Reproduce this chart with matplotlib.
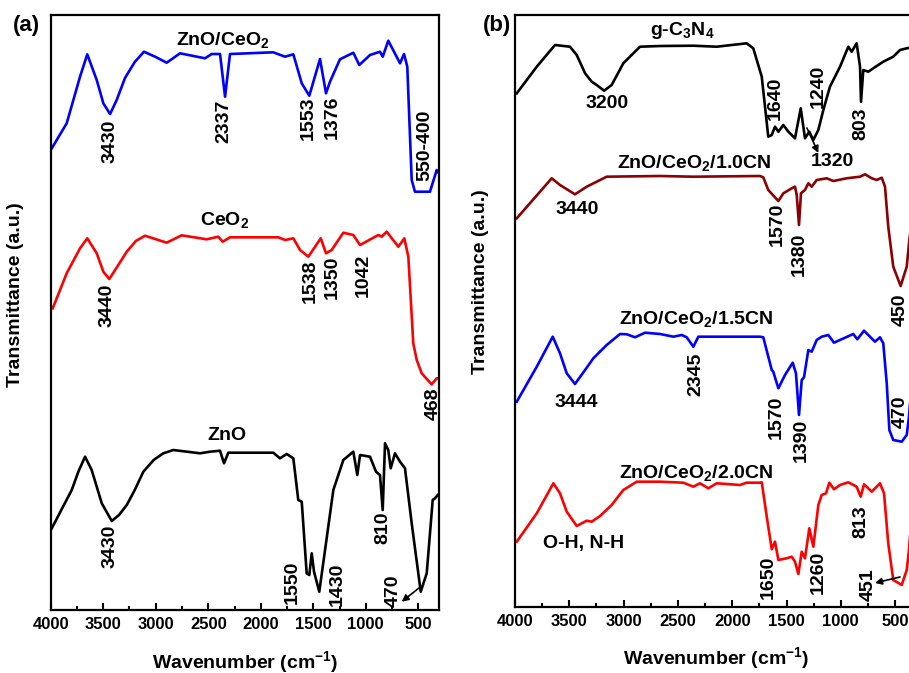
import matplotlib
matplotlib.use("Agg")
import matplotlib.pyplot as plt
from matplotlib.ticker import MultipleLocator

plt.rcParams['font.family'] = ['Liberation Sans', 'DejaVu Sans']
plt.rcParams['font.weight'] = 'bold'
plt.rcParams['mathtext.fontset'] = 'custom'
plt.rcParams['mathtext.rm'] = 'Liberation Sans:bold'
plt.rcParams['mathtext.bf'] = 'Liberation Sans:bold'
plt.rcParams['mathtext.it'] = 'Liberation Sans:bold'

# ---------------- Panel (a) data (wavenumber, transmittance a.u.) ----------------
zc_wn = [3990, 3848, 3721, 3652, 3562, 3499, 3435, 3372, 3293, 3200, 3112, 3000, 2896, 2769, 2531, 2467, 2388, 2340,
         2293, 1881, 1769, 1690, 1610, 1538, 1436, 1379, 1341, 1246, 1119, 1062, 960, 865, 839, 786,
         674, 636, 605, 563, 532, 389, 325, 315]
zc_t = [461.7, 486.7, 533.3, 555.7, 530, 506.7, 496, 510, 532, 548, 558.3, 553, 547.3, 556.7, 551.7, 556, 556, 513.3,
        556, 557.7, 553.3, 555.7, 526.7, 514.3, 551, 516.7, 528.3, 550.7, 557.3, 545, 555, 558.3, 553.3, 569.3,
        546.7, 556, 543.3, 430, 418.3, 418.3, 440, 438]

ce_wn = [3981, 3848, 3721, 3652, 3562, 3499, 3442, 3276, 3190, 3102, 2896, 2753, 2515, 2404, 2362, 2293, 1833,
         1769, 1690, 1626, 1547, 1429, 1379, 1325, 1214, 1119, 1055, 881, 849, 801, 690, 633, 595, 548,
         515, 468, 373, 325, 310]
ce_t = [301.7, 336.7, 361.7, 371.7, 356.7, 338.3, 331, 358.3, 369, 374.3, 367.3, 374.7, 370.7, 373.3, 368.3, 372.7, 372.7,
        370, 371.7, 360, 353.3, 371.7, 356.7, 360, 377.3, 375, 365, 375, 373.3, 378.3, 363.3, 371.7, 353.3, 266.7,
        250, 236.7, 225.7, 231.7, 231.7]

zn_wn = [3990, 3800, 3737, 3673, 3610, 3514, 3419, 3350, 3276, 3200, 3118, 3020, 2928, 2833, 2579, 2483, 2388, 2350, 2309,
         1881, 1817, 1753, 1690, 1643, 1610, 1563, 1538, 1515, 1493, 1443, 1388, 1309, 1214, 1119, 1081,
         1055, 960, 903, 865, 839, 817, 786, 763, 722, 674, 627, 563, 477, 420, 363, 341, 315]
zn_t = [81.7, 120, 138.3, 153.3, 140, 106.7, 89, 95, 105, 120, 138.3, 150, 156.7, 160, 156.7, 158.3, 159.3, 146.7, 157.3,
        157.3, 151.7, 156, 151.7, 110, 108.3, 36.7, 35, 56.7, 38.3, 18.3, 60, 120, 150, 158.3, 135,
        155, 153.3, 138.3, 135, 100, 166.7, 160, 141.7, 156.7, 148.3, 141.7, 86.7, 18.3, 36.7, 110, 111.7, 115]

# ---------------- Panel (b) data ----------------
cn_wn = [3984, 3800, 3632, 3494, 3432, 3355, 3294, 3248, 3180, 3110, 3003, 2849, 2665, 2358, 2143, 1867,
         1806, 1728, 1698, 1668, 1636, 1606, 1575, 1529, 1483, 1422, 1369, 1330, 1290, 1253, 1207, 1161,
         1100, 1007, 931, 900, 854, 823, 814, 793, 747, 701, 609, 517, 455, 393, 330]
cn_t = [513.7, 540.3, 562, 560.3, 552, 533.7, 525.3, 522, 516.3, 522, 543.7, 560.3, 561, 561.3, 560.3, 563.7,
        558.7, 530.3, 500.3, 470.3, 472, 480.3, 475.3, 482, 475.3, 468.7, 498.7, 468.7, 475.3, 467, 477, 497,
        520.3, 540.3, 560.3, 555.3, 563.7, 540.3, 505.3, 537, 535.3, 538.7, 545.3, 550.3, 557, 558.7, 560]

c10_wn = [3984, 3662, 3586, 3448, 3340, 3156, 2665, 2358, 1744, 1714, 1668, 1575, 1529, 1452, 1422, 1406,
          1385, 1367, 1330, 1299, 1268, 1222, 1130, 1069, 946, 823, 777, 715, 669, 623, 593, 563, 517,
          449, 393, 369, 330]
c10_t = [388.7, 428.7, 422, 412.7, 420.3, 430.3, 431, 430.3, 431, 429.7, 417, 406, 413.7, 418.7, 420.3, 412,
         382, 413.7, 417, 423.7, 420.3, 427, 428.7, 426, 428.7, 430.3, 432.7, 428.7, 427, 429.3, 420.3, 380.3, 340.3,
         321, 340.3, 367, 400]

c15_wn = [3984, 3800, 3653, 3586, 3524, 3448, 3355, 3279, 3156, 3033, 2971, 2895, 2803, 2665, 2542, 2465,
          2419, 2358, 2312, 1898, 1744, 1714, 1636, 1622, 1575, 1514, 1443, 1413, 1385, 1360, 1339, 1299,
          1268, 1222, 1176, 1115, 1063, 885, 848, 786, 747, 685, 639, 609, 577, 553, 517, 439, 393, 372, 330]
c15_t = [205.3, 240.3, 270.3, 253.7, 233.7, 223, 237, 248.7, 262, 273, 272.7, 269.7, 274.3, 273, 270.3, 272,
         269.7, 260.3, 270.3, 270.3, 270.3, 269.7, 237, 235.3, 218.7, 232, 244.3, 233.7, 192, 227, 229.7, 257,
         255.3, 267, 270.3, 272, 264.3, 273, 267.7, 276.3, 272, 265.3, 269.7, 263.7, 223.7, 177, 167, 165.3, 172, 190.3, 250]

c20_wn = [3984, 3800, 3647, 3586, 3524, 3432, 3340, 3294, 3217, 3110, 3003, 2879, 2665, 2450, 2358, 2297,
          2220, 2143, 1928, 1867, 1744, 1728, 1682, 1636, 1606, 1575, 1498, 1452, 1422, 1391, 1360, 1330,
          1290, 1253, 1207, 1176, 1136, 1106, 1063, 1007, 931, 854, 817, 786, 715, 639, 602, 563, 517,
          439, 393, 372, 330]
c20_t = [65.3, 93.7, 123.7, 113.7, 95.3, 81, 86.3, 85.3, 91, 102, 117, 125.3, 125.3, 124.3, 120.3, 123.7,
         118.7, 123.7, 122, 124.3, 124.3, 124.7, 90.3, 57.7, 65.3, 47, 48.7, 50.3, 45.3, 33, 55.3, 48.7,
         78.7, 60.3, 102, 112, 113.7, 124.3, 117.7, 122, 124.7, 120.3, 110.3, 122.7, 115.3, 123.7, 113.7, 63.7, 27,
         22, 37, 57, 120]

# ---------------- Labels ----------------
a_names = ['ZnO/CeO$_{2}$', 'CeO$_{2}$', 'ZnO']
a_name_pos = [(2359, 570), (2348, 390), (2323, 175)]
a_peaks = ['3430', '2337', '1553', '1376', '550-400', '3440', '1538', '1350', '1042', '468',
           '3430', '1550', '1430', '810', '470']
a_peak_pos = [(3435, 469), (2350, 489), (1550, 492), (1322, 493), (436, 465), (3464, 305), (1531, 329),
              (1322, 333), (1027, 335), (361, 206), (3435, 64), (1703, 28), (1274, 26), (836, 82), (741, 19)]

b_names = ['g-C$_{3}$N$_{4}$', 'ZnO/CeO$_{2}$/1.0CN', 'ZnO/CeO$_{2}$/1.5CN', 'ZnO/CeO$_{2}$/2.0CN']
b_name_pos = [(2458, 577), (2350, 444), (2336, 288), (2336, 134)]
b_hlabels = ['3200', '1320', '3440', '3444', 'O-H, N-H']
b_hlabel_pos = [(3156, 504), (1077, 446), (3432, 397), (3432, 204.5), (3365, 63)]
b_peaks = ['1640', '1240', '803', '1570', '1380', '450', '2345', '1570', '1390', '470', '1650', '1260', '813', '451']
b_peak_pos = [(1606, 509), (1207, 521), (814, 483), (1585, 383), (1382, 353), (448, 297), (2336, 233),
              (1597, 190), (1360, 167), (448, 195), (1667, 30), (1207, 35), (817, 85), (747, 22)]

fig = plt.figure(figsize=(9.09, 6.73), dpi=100)
axa = fig.add_axes([0.0558, 0.0936, 0.4275, 0.8841])
axb = fig.add_axes([0.5666, 0.0981, 0.4420, 0.8796])

LW = 1.9
axa.plot(zc_wn, zc_t, color='#0000FF', lw=LW)
axa.plot(ce_wn, ce_t, color='#FF0000', lw=LW)
axa.plot(zn_wn, zn_t, color='black', lw=LW)
axb.plot(cn_wn, cn_t, color='black', lw=LW)
axb.plot(c10_wn, c10_t, color='#8B0000', lw=LW)
axb.plot(c15_wn, c15_t, color='#0000FF', lw=LW)
axb.plot(c20_wn, c20_t, color='#FF0000', lw=LW)

FS = 14
for ax, top in [(axa, 595), (axb, 592)]:
    ax.set_xlim(4000, 300)
    ax.set_ylim(0, top)
    ax.set_yticks([])
    ax.xaxis.set_major_locator(MultipleLocator(500))
    ax.xaxis.set_minor_locator(MultipleLocator(250))
    ax.tick_params(axis='x', which='major', direction='in', length=5, width=1.5, labelsize=12, pad=5)
    ax.tick_params(axis='x', which='minor', direction='in', length=3, width=1.5)
    ax.set_xticks([4000, 3500, 3000, 2500, 2000, 1500, 1000, 500])
    for lab in ax.get_xticklabels():
        lab.set_fontweight('bold')
    for s in ax.spines.values():
        s.set_linewidth(1.6)
    ax.set_xlabel('Wavenumber (cm$^{-1}$)', fontsize=FS, fontweight='bold', labelpad=12)
    ax.set_ylabel('Transmittance (a.u.)', fontsize=FS, fontweight='bold')

axa.yaxis.set_label_coords(-0.068, 0.53)
axb.yaxis.set_label_coords(-0.065, 0.55)

for t, (x, y) in zip(a_names, a_name_pos):
    axa.text(x, y, t, fontsize=FS, fontweight='bold', ha='center', va='center')
for t, (x, y) in zip(a_peaks, a_peak_pos):
    axa.text(x, y, t, fontsize=FS, fontweight='bold', ha='center', va='center', rotation=90)
for t, (x, y) in zip(b_names, b_name_pos):
    axb.text(x, y, t, fontsize=FS, fontweight='bold', ha='center', va='center')
for t, (x, y) in zip(b_hlabels, b_hlabel_pos):
    axb.text(x, y, t, fontsize=FS, fontweight='bold', ha='center', va='center')
for t, (x, y) in zip(b_peaks, b_peak_pos):
    axb.text(x, y, t, fontsize=FS, fontweight='bold', ha='center', va='center', rotation=90)

arrow = dict(arrowstyle='-|>', color='black', lw=1.2, mutation_scale=10, shrinkA=0, shrinkB=0)
axa.annotate('', xy=(658, 8.3), xytext=(478, 23.3), arrowprops=arrow)
axb.annotate('', xy=(1207, 454), xytext=(1312, 479), arrowprops=arrow)
axb.annotate('', xy=(685, 24), xytext=(455, 30), arrowprops=arrow)

fig.text(26 / 909, 1 - 25 / 673, '(a)', fontsize=16, fontweight='bold', ha='center', va='center')
fig.text(497 / 909, 1 - 25 / 673, '(b)', fontsize=16, fontweight='bold', ha='center', va='center')

fig.savefig('out.png', dpi=100)
